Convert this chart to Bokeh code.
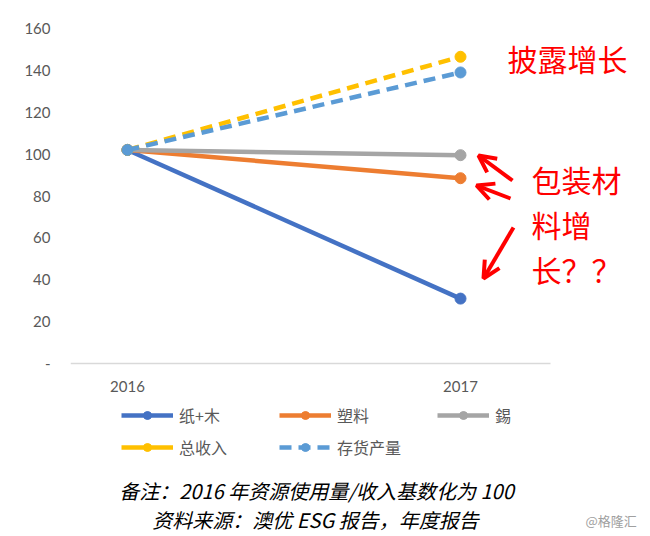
from bokeh.plotting import figure
from bokeh.models import (Range1d, FixedTicker, Legend, LegendItem, Label, Arrow, OpenHead,
                          ColumnDataSource, LinearAxis)
from bokeh.embed import file_html
from bokeh.resources import INLINE

# ---- data ----
years = ["2016", "2017"]
series_names = ["纸+木", "塑料", "錫", "总收入", "存货产量"]
paper_wood = [102, 31]
plastic = [102, 88.5]
tin = [102, 99.5]
revenue = [102, 146.5]
inventory = [102, 139]
y_ticks = [0, 20, 40, 60, 80, 100, 120, 140, 160]
y_tick_labels = ["-", "20", "40", "60", "80", "100", "120", "140", "160"]

colors = ["#4472C4", "#ED7D31", "#A5A5A5", "#FFC000", "#5B9BD5"]
dashes = ["solid", "solid", "solid", "12 7", "12 7"]
values_list = [paper_wood, plastic, tin, revenue, inventory]

CJK = "Noto Sans CJK SC"

# helpers mapping canvas pixel positions of annotations to data coordinates
X0, XS = 127.0, 333.0          # pixel of 2016, pixels per year
Y0, YS = 363.0, 335.0 / 160.0  # pixel of value 0, pixels per unit

def dx(xp):
    return (xp - X0) / XS

def dy(yp):
    return (Y0 - yp) / YS

W, H = 642, 536
p = figure(width=W, height=H, output_backend="svg", toolbar_location=None,
           x_range=Range1d(dx(70), dx(W)), y_range=Range1d(dy(H), 160),
           x_axis_location=None,
           min_border_left=70, min_border_right=0, min_border_top=28, min_border_bottom=0)
p.outline_line_color = None
p.xgrid.visible = False
p.ygrid.visible = False

xs = list(range(len(years)))

# y axis
p.yaxis.ticker = FixedTicker(ticks=y_ticks)
p.yaxis.major_label_overrides = {t: l for t, l in zip(y_ticks, y_tick_labels)}
p.yaxis.axis_line_color = None
p.yaxis.major_tick_line_color = None
p.yaxis.minor_tick_line_color = None
p.yaxis.major_label_text_font = "Lato"
p.yaxis.major_label_text_font_size = "15px"
p.yaxis.major_label_text_color = "#595959"
p.yaxis.major_label_standoff = 14

# x axis, fixed at value 0 inside the frame
xaxis = LinearAxis(fixed_location=0, bounds=(dx(70), dx(550)))
xaxis.ticker = FixedTicker(ticks=xs)
xaxis.major_label_overrides = {i: y for i, y in enumerate(years)}
xaxis.axis_line_color = "#D9D9D9"
xaxis.axis_line_width = 1.5
xaxis.major_tick_line_color = None
xaxis.minor_tick_line_color = None
xaxis.major_label_text_font = "Lato"
xaxis.major_label_text_font_size = "15px"
xaxis.major_label_text_color = "#595959"
xaxis.major_label_standoff = 11
p.add_layout(xaxis, "below")

items = {}
for name, vals, c, d in zip(series_names, values_list, colors, dashes):
    src = ColumnDataSource(dict(x=xs, y=vals))
    ln = p.line("x", "y", source=src, line_color=c, line_width=4.5, line_dash=d)
    sc = p.scatter("x", "y", source=src, size=11, fill_color=c, line_color=c)
    if name == "总收入":
        nan_src = ColumnDataSource(dict(x=[float("nan")], y=[float("nan")]))
        l2 = p.line("x", "y", source=nan_src, line_color=c, line_width=4.5)
        s2 = p.scatter("x", "y", source=nan_src, size=11, fill_color=c, line_color=c)
        items[name] = LegendItem(label=name, renderers=[l2, s2])
    else:
        items[name] = LegendItem(label=name, renderers=[ln, sc])

# legend fills column by column: arrange so rows read 纸+木 塑料 錫 / 总收入 存货产量
legend_order = ["纸+木", "总收入", "塑料", "存货产量", "錫"]
legend = Legend(items=[items[n] for n in legend_order], ncols=3, location=(51, H - 459),
                glyph_width=52, glyph_height=20, label_height=20, label_width=92,
                label_standoff=6, spacing=8, padding=0, margin=0,
                border_line_color=None, background_fill_alpha=0,
                label_text_font=CJK, label_text_font_size="16px",
                label_text_color="#595959")
p.add_layout(legend, "center")

red = "#FF0000"
for txt, xp, yp in [("披露增长", 507, 57), ("包装材", 531, 178), ("料增", 531, 223), ("长？？", 531, 268)]:
    p.add_layout(Label(x=dx(xp), y=dy(yp), text=txt, text_font=CJK, text_font_size="30px",
                       text_color=red, text_baseline="middle", text_align="left"))

for (x0, y0, x1, y1) in [(512, 180, 478, 155), (510, 198, 476, 185), (513, 227, 483, 278)]:
    p.add_layout(Arrow(x_start=dx(x0), y_start=dy(y0), x_end=dx(x1), y_end=dy(y1),
                       line_color=red, line_width=4,
                       end=OpenHead(size=17, line_color=red, line_width=4)))

# footnotes
p.add_layout(Label(x=dx(316), y=dy(490), text="备注：2016 年资源使用量/收入基数化为 100",
                   text_font=CJK, text_font_size="20px", text_font_style="italic",
                   text_color="#000000", text_align="center", text_baseline="middle"))
p.add_layout(Label(x=dx(315), y=dy(519), text="资料来源：澳优 ESG 报告，年度报告",
                   text_font=CJK, text_font_size="20px", text_font_style="italic",
                   text_color="#000000", text_align="center", text_baseline="middle"))
p.add_layout(Label(x=dx(585), y=dy(520), text="@格隆汇",
                   text_font=CJK, text_font_size="13px",
                   text_color="#A0A0A0", text_align="left", text_baseline="middle"))

open("out.html", "w").write(file_html(p, INLINE))
